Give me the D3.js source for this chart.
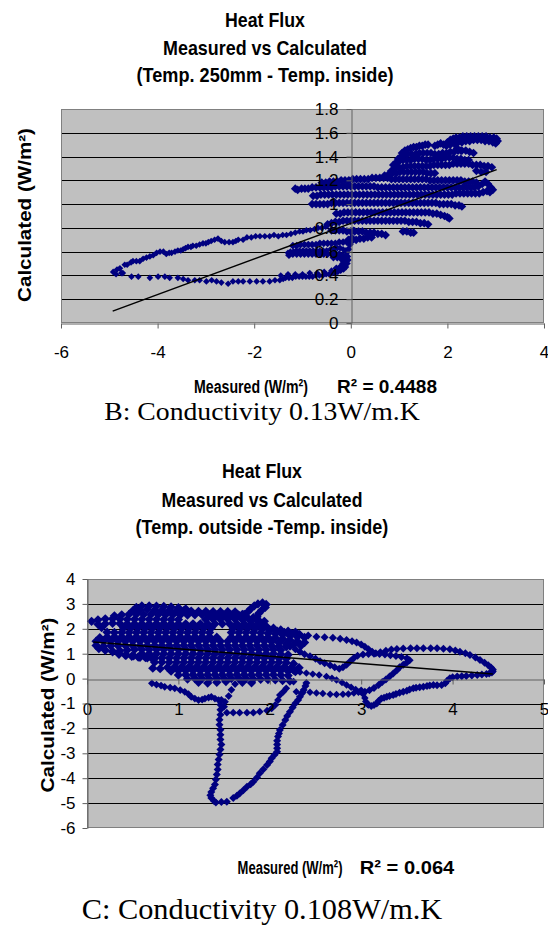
<!DOCTYPE html>
<html>
<head>
<meta charset="utf-8">
<script src="https://cdn.jsdelivr.net/npm/d3@7"></script>
<style>
  body { margin: 0; background: #fff; }
  svg { display: block; }
</style>
</head>
<body>
<svg id="chart"></svg>
<script>
// ---------- chart B : Temp. 250mm - Temp. inside ----------
let xTicksB = [-6, -4, -2, 0, 2, 4];
let yTicksB = [0, 0.2, 0.4, 0.6, 0.8, 1, 1.2, 1.4, 1.6, 1.8];
let trendB = [[-4.93, 0.10], [3.02, 1.29]];

let loopUpperB = [[-4.92,0.43],[-4.86,0.41],[-4.84,0.45],[-4.78,0.46],[-4.72,0.42],[-4.68,0.49],[-4.63,0.49],[-4.55,0.51],[-4.51,0.52],[-4.44,0.52],[-4.37,0.52],[-4.30,0.54],[-4.23,0.55],[-4.16,0.56],[-4.09,0.57],[-4.02,0.59],[-3.95,0.60],[-3.88,0.60],[-3.82,0.58],[-3.76,0.59],[-3.71,0.59],[-3.64,0.60],[-3.58,0.61],[-3.52,0.61],[-3.47,0.62],[-3.42,0.63],[-3.37,0.64],[-3.31,0.64],[-3.27,0.65],[-3.20,0.65],[-3.13,0.66],[-3.06,0.67],[-3.00,0.67],[-2.95,0.68],[-2.89,0.69],[-2.82,0.70],[-2.75,0.71],[-2.68,0.69],[-2.61,0.68],[-2.52,0.68],[-2.44,0.68],[-2.38,0.69],[-2.33,0.70],[-2.23,0.70],[-2.15,0.72],[-2.06,0.72],[-1.97,0.73],[-1.88,0.73],[-1.78,0.73],[-1.68,0.73],[-1.59,0.74],[-1.50,0.73],[-1.41,0.74],[-1.33,0.74],[-1.24,0.75],[-1.15,0.76],[-1.06,0.77],[-0.99,0.77],[-0.92,0.78],[-0.84,0.78],[-0.75,0.79],[-0.68,0.80],[-0.60,0.80],[-0.52,0.81]];

let loopLowerB = [[-4.75,0.42],[-4.54,0.39],[-4.40,0.39],[-4.16,0.38],[-3.99,0.39],[-3.85,0.39],[-3.75,0.38],[-3.58,0.38],[-3.47,0.37],[-3.37,0.36],[-3.23,0.36],[-3.13,0.36],[-2.99,0.35],[-2.88,0.36],[-2.78,0.35],[-2.68,0.34],[-2.54,0.33],[-2.44,0.35],[-2.33,0.35],[-2.23,0.35],[-2.09,0.35],[-1.95,0.35],[-1.82,0.35],[-1.68,0.35],[-1.57,0.36],[-1.47,0.36],[-1.40,0.37],[-1.35,0.38],[-1.28,0.38],[-1.21,0.38],[-1.14,0.39],[-1.07,0.39],[-1.00,0.39],[-0.93,0.39],[-0.86,0.39],[-0.79,0.39],[-0.72,0.40],[-0.65,0.40],[-0.58,0.40],[-0.51,0.41],[-0.45,0.41],[-0.39,0.42],[-0.33,0.42],[-0.27,0.43],[-0.21,0.44],[-0.15,0.45],[-0.10,0.47],[-0.07,0.50],[-0.05,0.53],[-0.06,0.56],[-0.08,0.59],[-0.11,0.61],[-0.16,0.62],[-0.22,0.63],[-0.28,0.63],[-0.35,0.62],[-0.42,0.62],[-0.50,0.61],[-0.57,0.61],[-0.64,0.61],[-0.71,0.61],[-0.78,0.61],[-0.85,0.61],[-0.92,0.61],[-0.99,0.61],[-1.06,0.61],[-1.13,0.61],[-1.19,0.60],[-1.25,0.60],[-1.30,0.59],[-1.45,0.40],[-1.30,0.41],[-1.15,0.41],[-1.00,0.41],[-0.85,0.42],[-0.70,0.42],[-0.55,0.43],[-0.40,0.44],[-0.25,0.45],[-0.15,0.48],[-0.12,0.52],[-0.12,0.56]];

let loopBlobB = [[-1.28,0.57],[-1.20,0.58],[-1.12,0.58],[-1.04,0.58],[-0.96,0.58],[-0.88,0.58],[-0.80,0.58],[-0.72,0.58],[-0.64,0.58],[-0.56,0.58],[-0.48,0.58],[-0.40,0.58],[-0.32,0.58],[-0.24,0.58],[-0.17,0.57],[-1.20,0.65],[-1.12,0.65],[-1.04,0.66],[-0.96,0.66],[-0.88,0.66],[-0.80,0.66],[-0.72,0.66],[-0.64,0.67],[-0.56,0.67],[-0.48,0.67],[-0.40,0.67],[-0.32,0.67],[-0.24,0.68],[-0.16,0.68],[-0.08,0.68],[0.00,0.68],[-0.30,0.46],[-0.22,0.47],[-0.16,0.50],[-0.14,0.54],[-0.20,0.54],[-0.28,0.55],[-0.36,0.55],[-0.05,0.62],[-0.02,0.66],[0.02,0.72],[0.06,0.78]];

let cloudUpperB = [[2.00,1.52],[2.06,1.54],[2.12,1.55],[2.18,1.56],[2.25,1.56],[2.32,1.57],[2.40,1.57],[2.48,1.57],[2.56,1.57],[2.64,1.57],[2.72,1.57],[2.80,1.57],[2.88,1.56],[2.96,1.56],[3.02,1.55],[3.04,1.53],
[1.74,1.49],[1.80,1.50],[1.86,1.51],[1.92,1.50],[1.98,1.49],[2.06,1.50],[2.14,1.51],[2.22,1.52],[2.30,1.52],[2.38,1.53],[2.46,1.53],[2.54,1.54],[2.62,1.54],[2.70,1.54],[2.78,1.53],[2.86,1.53],[2.94,1.52],[3.00,1.51],
[1.06,1.43],[1.12,1.45],[1.18,1.46],[1.24,1.47],[1.30,1.48],[1.36,1.48],[1.42,1.49],[1.48,1.49],[1.54,1.50],[1.60,1.50],[2.20,1.47],[2.28,1.45],
[0.98,1.38],[1.04,1.40],[1.10,1.41],[1.18,1.42],[1.26,1.42],[1.34,1.42],[1.42,1.43],[1.50,1.43],[1.58,1.43],[1.66,1.43],[1.74,1.42],[1.82,1.42],[1.90,1.43],[1.98,1.43],[2.06,1.44],[2.14,1.44],[2.22,1.45],[2.30,1.45],[2.38,1.45],[2.46,1.44],[2.54,1.43],
[0.88,1.33],[0.94,1.35],[1.00,1.36],[1.08,1.37],[1.16,1.37],[1.24,1.37],[1.32,1.38],[1.40,1.38],[1.48,1.38],[1.56,1.37],[1.64,1.37],[1.72,1.38],[1.80,1.38],[1.88,1.38],[1.96,1.39],[2.04,1.39],[2.12,1.39],[2.20,1.38],[2.28,1.38],[2.36,1.37],[2.44,1.37],
[0.84,1.28],[0.92,1.30],[1.00,1.31],[1.08,1.31],[1.16,1.32],[1.24,1.32],[1.32,1.32],[1.40,1.32],[1.48,1.32],[1.56,1.32],[1.64,1.32],[1.72,1.33],[1.80,1.33],[1.88,1.33],[1.96,1.33],[2.04,1.33],[2.12,1.34],[2.20,1.34],[2.28,1.34],[2.36,1.34],[2.44,1.34],[2.52,1.33],[2.60,1.33],[2.68,1.33],[2.76,1.32],[2.84,1.32],[2.92,1.31],
[0.70,1.24],[0.78,1.25],[0.86,1.26],[0.94,1.26],[1.02,1.27],[1.10,1.27],[1.18,1.27],[1.26,1.27],[1.34,1.27],[1.42,1.27],[1.50,1.27],[1.58,1.26],[1.66,1.26],[1.74,1.26],[2.60,1.28],[2.70,1.27],[2.80,1.27]];

let cloudMiddleB = [[-0.60,1.18],[-0.52,1.18],[-0.44,1.19],[-0.36,1.19],[-0.28,1.19],[-0.20,1.20],[-0.12,1.20],[-0.04,1.20],[0.04,1.21],[0.12,1.21],[0.20,1.21],[0.28,1.21],[0.36,1.21],[0.44,1.22],[0.52,1.22],[0.60,1.22],[0.68,1.22],[0.76,1.22],[0.84,1.21],[0.92,1.21],[1.00,1.21],[1.08,1.21],[1.16,1.21],[1.24,1.21],[1.32,1.21],[1.40,1.21],[1.48,1.21],[1.56,1.21],[1.64,1.20],[1.72,1.20],[1.80,1.20],[1.88,1.20],[1.96,1.20],[2.04,1.20],[2.12,1.20],[2.20,1.20],[2.28,1.20],[2.36,1.19],[2.44,1.19],[2.52,1.19],[2.60,1.18],
[-1.15,1.13],[-1.10,1.12],[-1.02,1.13],[-0.95,1.13],[-0.88,1.13],[-0.80,1.14],[-0.72,1.14],[-0.64,1.14],[-0.56,1.14],[-0.48,1.14],[-0.40,1.14],[-0.32,1.15],[-0.24,1.15],[-0.16,1.15],[-0.08,1.15],[0.00,1.15],[0.08,1.15],[0.16,1.15],[0.24,1.15],[0.32,1.15],[0.40,1.15],[0.48,1.15],[0.56,1.14],[0.64,1.14],[0.72,1.14],[0.80,1.14],[0.88,1.14],[0.96,1.14],[1.04,1.14],[1.12,1.14],[1.20,1.14],[1.28,1.14],[1.36,1.14],[1.44,1.14],[1.52,1.14],[1.60,1.14],[1.68,1.14],[1.76,1.14],[1.84,1.14],[1.92,1.14],[2.00,1.14],[2.08,1.14],[2.16,1.14],[2.24,1.14],[2.32,1.14],[2.40,1.14],[2.48,1.14],[2.56,1.14],[2.64,1.15],[2.72,1.17],[2.78,1.19],[2.84,1.17],[2.90,1.14],[2.94,1.12],
[-0.78,1.07],[-0.70,1.07],[-0.62,1.08],[-0.54,1.08],[-0.46,1.08],[-0.38,1.08],[-0.30,1.08],[-0.22,1.08],[-0.14,1.08],[-0.06,1.08],[0.02,1.08],[0.10,1.08],[0.18,1.08],[0.26,1.08],[0.34,1.08],[0.42,1.08],[0.50,1.08],[0.58,1.08],[0.66,1.08],[0.74,1.08],[0.82,1.08],[0.90,1.08],[0.98,1.08],[1.06,1.08],[1.14,1.08],[1.22,1.08],[1.30,1.08],[1.38,1.08],[1.46,1.08],[1.54,1.08],[1.62,1.08],[1.70,1.08],[1.78,1.08],[1.86,1.08],[1.94,1.08],[2.02,1.08],[2.10,1.08],[2.18,1.09],[2.26,1.09],[2.34,1.09],[2.42,1.09],[2.50,1.09],[2.58,1.09],[2.66,1.09],[2.74,1.10],[2.82,1.11],[2.88,1.10]];

let cloudLowerB = [[-0.80,1.00],[-0.72,1.00],[-0.64,1.00],[-0.56,1.00],[-0.48,1.00],[-0.40,1.01],[-0.32,1.01],[-0.24,1.01],[-0.16,1.01],[-0.08,1.01],[0.00,1.01],[0.08,1.01],[0.16,1.01],[0.24,1.01],[0.32,1.01],[0.40,1.01],[0.48,1.01],[0.56,1.01],[0.64,1.01],[0.72,1.01],[0.80,1.01],[0.88,1.01],[0.96,1.01],[1.04,1.01],[1.12,1.01],[1.20,1.01],[1.28,1.01],[1.36,1.01],[1.44,1.01],[1.52,1.01],[1.60,1.01],[1.68,1.01],[1.76,1.01],[1.84,1.00],[1.92,1.00],[2.00,1.00],[2.08,1.00],[2.16,0.99],[2.24,0.99],[2.30,0.98],
[-0.30,0.92],[-0.22,0.92],[-0.14,0.93],[-0.06,0.93],[0.02,0.93],[0.10,0.93],[0.18,0.93],[0.26,0.93],[0.34,0.93],[0.42,0.93],[0.50,0.93],[0.58,0.93],[0.66,0.93],[0.74,0.93],[0.82,0.93],[0.90,0.93],[0.98,0.93],[1.06,0.93],[1.14,0.93],[1.22,0.93],[1.30,0.93],[1.38,0.93],[1.46,0.93],[1.54,0.93],[1.62,0.93],[1.70,0.92],[1.78,0.92],[1.86,0.91],[1.94,0.90],[2.00,0.89],[2.04,0.88],
[-0.48,0.83],[-0.40,0.84],[-0.32,0.85],[-0.24,0.85],[-0.16,0.86],[-0.08,0.86],[0.00,0.86],[0.08,0.86],[0.16,0.86],[0.24,0.86],[0.32,0.86],[0.40,0.86],[0.48,0.86],[0.56,0.86],[0.64,0.86],[0.72,0.86],[0.80,0.86],[0.88,0.86],[0.96,0.86],[1.04,0.86],[1.12,0.86],[1.20,0.85],[1.28,0.85],[1.36,0.85],[1.44,0.84],[1.52,0.84],[1.60,0.83],
[-0.40,0.78],[-0.32,0.78],[-0.24,0.78],[-0.16,0.78],[-0.08,0.77],[0.00,0.77],[0.08,0.77],[0.16,0.77],[0.24,0.77],[0.32,0.76],[0.40,0.76],[0.48,0.76],[0.56,0.75],[0.64,0.75],[0.72,0.74],[1.08,0.77],[1.16,0.77],[1.24,0.76],[1.30,0.76],
[-0.05,0.70],[0.03,0.70],[0.11,0.70],[0.19,0.71],[0.27,0.71],[0.35,0.72],[0.43,0.72]];

// ---------- chart C : Temp. outside - Temp. inside ----------
let xTicksC = [0, 1, 2, 3, 4, 5];
let yTicksC = [-6, -5, -4, -3, -2, -1, 0, 1, 2, 3, 4];
let trendC = [[0.07, 1.47], [4.44, 0.18]];

let cloudTopC = [[0.54,2.86],[0.60,2.92],[0.68,2.92],[0.76,2.91],[0.84,2.90],[0.92,2.88],[1.00,2.85],[1.08,2.80],
[0.50,2.72],[0.58,2.76],[0.66,2.78],[0.74,2.76],[0.82,2.75],[0.90,2.74],[0.98,2.73],[1.06,2.73],[1.14,2.71],[1.22,2.70],[1.30,2.70],[1.38,2.69],[1.46,2.69],[1.54,2.69],[1.62,2.68],[1.70,2.58],
[0.30,2.52],[0.38,2.56],[0.46,2.58],[0.54,2.58],[0.62,2.57],[0.70,2.57],[0.78,2.57],[0.86,2.56],[0.94,2.56],[1.02,2.55],[1.10,2.55],[1.18,2.56],[1.26,2.56],[1.34,2.55],[1.42,2.55],[1.50,2.54],[1.58,2.54],[1.66,2.55],[1.74,2.50],[1.82,2.45],
[0.05,2.30],[0.12,2.36],[0.20,2.40],[0.28,2.40],[0.36,2.39],[0.44,2.38],[0.52,2.38],[0.60,2.38],[0.68,2.38],[0.76,2.38],[0.84,2.37],[0.92,2.37],[1.00,2.37],[1.30,2.37],[1.38,2.38],[1.46,2.38],[1.54,2.38],[1.62,2.38],[1.70,2.37],[1.78,2.35],[1.86,2.33],[1.94,2.30],
[0.12,2.18],[0.20,2.20],[0.28,2.22],[0.36,2.21],[0.44,2.20],[0.52,2.20],[0.60,2.20],[0.68,2.20],[0.76,2.21],[0.84,2.21],[0.92,2.20],[1.00,2.20],[1.08,2.20],[1.16,2.20],[1.24,2.20],[1.32,2.20],[1.40,2.20],[1.48,2.20],[1.56,2.20],[1.64,2.20],[1.72,2.20],[1.80,2.19],[1.88,2.18],[1.96,2.10],[2.04,2.02],[2.12,1.95],[2.20,1.90],[2.28,1.86],
[1.72,2.58],[1.76,2.68],[1.79,2.80],[1.83,2.92],[1.87,3.00],[1.92,3.04],[1.96,2.98],[1.95,2.86],[1.91,2.74],[1.88,2.62],[1.86,2.48],[1.87,2.36],[1.90,2.24],[1.93,2.12]];

let cloudMidC = [[0.16,2.05],[0.40,2.03],[0.48,2.03],[0.56,2.03],[0.64,2.03],[0.72,2.03],[0.80,2.03],[0.88,2.03],[0.96,2.03],[1.04,2.03],[1.12,2.03],[1.20,2.03],[1.28,2.03],[1.36,2.03],[1.60,2.02],[1.68,2.02],[1.76,2.02],[1.84,2.01],[1.92,1.99],[2.00,1.95],[2.08,1.90],[2.16,1.85],[2.24,1.80],[2.32,1.77],
[0.22,1.86],[0.30,1.85],[0.38,1.85],[0.46,1.85],[0.54,1.85],[0.62,1.85],[0.70,1.85],[0.78,1.85],[0.86,1.85],[0.94,1.85],[1.02,1.85],[1.10,1.85],[1.18,1.85],[1.26,1.85],[1.34,1.85],[1.58,1.85],[1.66,1.85],[1.74,1.85],[1.82,1.85],[1.90,1.84],[1.98,1.82],[2.06,1.80],[2.14,1.76],[2.22,1.72],[2.30,1.68],[2.38,1.65],
[0.14,1.64],[0.22,1.67],[0.30,1.68],[0.38,1.68],[0.46,1.68],[0.54,1.68],[0.62,1.68],[0.70,1.68],[0.78,1.68],[0.86,1.68],[0.94,1.68],[1.02,1.68],[1.10,1.68],[1.18,1.68],[1.26,1.68],[1.34,1.68],[1.42,1.66],[1.58,1.66],[1.66,1.67],[1.74,1.67],[1.82,1.67],[1.90,1.67],[1.98,1.66],[2.06,1.64],[2.14,1.60],[2.22,1.55],[2.30,1.50],[2.38,1.45],
[0.10,1.50],[0.18,1.52],[0.26,1.51],[0.34,1.50],[0.42,1.50],[0.50,1.50],[0.58,1.50],[0.66,1.50],[0.74,1.50],[0.82,1.50],[0.90,1.50],[0.98,1.50],[1.06,1.50],[1.14,1.50],[1.22,1.50],[1.30,1.50],[1.38,1.50],[1.46,1.50],[1.54,1.50],[1.62,1.50],[1.70,1.50],[1.78,1.50],[1.86,1.50],[1.94,1.50],[2.02,1.48],[2.10,1.44],[2.18,1.40],[2.26,1.36],[2.34,1.32],
[0.10,1.33],[0.18,1.30],[0.26,1.32],[0.34,1.32],[0.42,1.33],[0.50,1.33],[0.58,1.33],[0.66,1.33],[0.74,1.33],[0.82,1.33],[0.90,1.33],[0.98,1.33],[1.06,1.33],[1.14,1.33],[1.22,1.33],[1.30,1.33],[1.38,1.33],[1.46,1.33],[1.54,1.33],[1.62,1.33],[1.70,1.33],[1.78,1.33],[1.86,1.33],[1.94,1.33],[2.02,1.32],[2.10,1.30],[2.18,1.28],
[0.28,1.10],[0.36,1.12],[0.44,1.15],[0.52,1.17],[0.60,1.17],[0.68,1.17],[0.76,1.17],[0.84,1.17],[0.92,1.17],[1.00,1.17],[1.08,1.17],[1.16,1.17],[1.24,1.17],[1.32,1.17],[1.40,1.17],[1.48,1.17],[1.56,1.17],[1.64,1.17],[1.72,1.17],[1.80,1.17],[1.88,1.17],[1.96,1.17],[2.04,1.17],[2.12,1.15],
[0.35,0.98],[0.43,0.95],[0.51,0.92],[0.60,1.00],[0.68,1.00],[0.76,1.00],[0.84,1.00],[0.92,1.00],[1.00,1.00],[1.08,1.00],[1.16,1.00],[1.24,1.00],[1.32,1.00],[1.40,1.00],[1.48,1.00],[1.56,1.00],[1.64,1.00],[1.72,1.00],[1.80,1.00],[1.88,1.00],[1.96,1.00],[2.04,1.00],[2.12,0.98],[2.20,0.96]];

let cloudLowC = [[0.58,0.86],[0.66,0.83],[0.74,0.81],[0.82,0.83],[0.90,0.83],[0.98,0.83],[1.06,0.83],[1.14,0.83],[1.22,0.83],[1.30,0.83],[1.38,0.83],[1.46,0.83],[1.54,0.83],[1.62,0.83],[1.70,0.83],[1.78,0.83],[1.86,0.83],[1.94,0.83],[2.02,0.83],[2.10,0.82],[2.18,0.80],
[0.74,0.66],[0.82,0.66],[0.90,0.66],[0.98,0.66],[1.06,0.66],[1.14,0.66],[1.22,0.66],[1.30,0.66],[1.38,0.66],[1.46,0.66],[1.54,0.66],[1.62,0.66],[1.70,0.66],[1.78,0.66],[1.86,0.66],[1.94,0.66],[2.02,0.66],[2.10,0.66],[2.18,0.64],[2.26,0.60],
[0.72,0.42],[0.80,0.40],[0.88,0.45],[0.96,0.48],[1.04,0.49],[1.12,0.49],[1.20,0.49],[1.28,0.49],[1.36,0.49],[1.44,0.49],[1.52,0.49],[1.60,0.49],[1.68,0.49],[1.76,0.49],[1.84,0.49],[1.92,0.49],[2.00,0.49],[2.08,0.49],[2.16,0.48],[2.24,0.46],[2.32,0.44],
[0.92,0.30],[1.00,0.32],[1.08,0.32],[1.16,0.32],[1.24,0.32],[1.32,0.32],[1.40,0.32],[1.48,0.32],[1.56,0.32],[1.64,0.32],[1.72,0.32],[1.80,0.32],[1.88,0.32],[1.96,0.32],[2.04,0.32],[2.12,0.32],[2.20,0.30],[2.28,0.28],
[1.00,0.14],[1.08,0.15],[1.16,0.15],[1.24,0.15],[1.32,0.15],[1.40,0.15],[1.48,0.15],[1.56,0.15],[1.64,0.15],[1.72,0.15],[1.80,0.15],[1.88,0.15],[1.96,0.15],[2.04,0.15],[2.12,0.14],[2.20,0.12],
[1.10,-0.02],[1.18,0.00],[1.26,0.00],[1.34,-0.02],[1.42,0.00],[1.50,0.00],[1.58,0.00],[1.66,0.00],[1.74,0.00],[1.82,-0.02],[1.90,-0.03],[1.98,-0.04],[2.06,-0.05],[2.14,-0.08],[2.22,-0.10],
[1.22,-0.15],[1.32,-0.18],[1.42,-0.15],[1.52,-0.12],[1.70,-0.15],[1.80,-0.17],
[0.13,1.21],[0.20,1.14],[0.28,1.08],[0.35,1.01],[0.42,0.94],[0.49,0.90],[0.56,0.87],[0.64,0.84],[0.71,0.81]];

let tailC = [[0.71,-0.19],[0.76,-0.24],[0.81,-0.28],[0.85,-0.33],[0.91,-0.36],[0.96,-0.39],[1.02,-0.46],[1.07,-0.53],[1.11,-0.62],[1.14,-0.73],[1.18,-0.80],[1.22,-0.86],[1.26,-0.84],[1.29,-0.80],[1.33,-0.76],[1.36,-0.73],[1.40,-0.80],[1.44,-0.86],
[1.50,-1.13],[1.51,-0.93],[1.55,-0.70],[1.58,-0.45],[1.62,-0.22],
[1.53,-1.37],[1.60,-1.37],[1.67,-1.37],[1.75,-1.37],[1.82,-1.37],[1.89,-1.33],[1.97,-1.29],[2.02,-1.20],[2.06,-1.06],[2.09,-0.86],[2.11,-0.66],[2.15,-0.52],[2.18,-0.39],[2.26,-0.12]];

let dropC = [[1.47,-0.86],[1.46,-1.05],[1.46,-1.25],[1.46,-1.45],[1.45,-1.65],[1.45,-1.85],[1.46,-2.05],[1.46,-2.25],[1.46,-2.45],[1.47,-2.65],[1.46,-2.85],[1.45,-3.05],[1.44,-3.25],[1.43,-3.45],[1.43,-3.65],[1.42,-3.85],[1.41,-4.05],[1.40,-4.25],[1.38,-4.40],[1.36,-4.55],[1.35,-4.68],[1.36,-4.80],[1.39,-4.92],[1.41,-4.98],
[1.47,-4.96],[1.53,-4.95],[1.60,-4.80],[1.64,-4.70],[1.67,-4.61],[1.71,-4.48],[1.75,-4.34],[1.79,-4.24],[1.82,-4.14],[1.86,-3.97],[1.89,-3.80],[1.93,-3.64],[1.97,-3.47],[2.00,-3.33],[2.02,-3.20],[2.05,-3.07],[2.08,-2.94],[2.08,-2.80],[2.08,-2.65],[2.08,-2.50],[2.09,-2.33],[2.10,-2.20],[2.11,-2.06],[2.14,-1.86],[2.17,-1.66],[2.19,-1.50],[2.22,-1.33],[2.25,-1.16],[2.28,-0.99],[2.31,-0.86],[2.33,-0.73],[2.35,-0.60],[2.37,-0.46],[2.39,-0.30],[2.40,-0.18]];

let outerLoopC = [[2.15,1.82],[2.24,1.80],[2.33,1.78],[2.42,1.73],[2.51,1.68],[2.60,1.66],[2.69,1.64],[2.77,1.60],[2.84,1.55],[2.90,1.50],[2.95,1.45],[3.00,1.37],[3.04,1.28],[3.08,1.18],[3.12,1.08],[3.16,1.02],[3.21,1.06],[3.27,1.12],[3.33,1.17],[3.39,1.19],[3.46,1.21],[3.54,1.22],[3.61,1.22],[3.68,1.22],[3.76,1.22],[3.83,1.22],[3.90,1.20],[3.97,1.18],[4.03,1.13],[4.08,1.08],[4.14,1.02],[4.19,0.95],[4.25,0.85],[4.30,0.75],[4.35,0.64],[4.39,0.54],[4.42,0.45],[4.44,0.37],[4.44,0.30],[4.43,0.24],[4.40,0.20],[4.37,0.18],[4.32,0.16],[4.27,0.14],[4.21,0.12],[4.15,0.10],[4.10,0.09],[4.05,0.08],[4.00,0.05],[3.97,0.01],[3.94,-0.09],[3.92,-0.19],[3.88,-0.26],[3.83,-0.27],[3.79,-0.26],[3.75,-0.28],[3.72,-0.30],[3.68,-0.33],[3.64,-0.35],[3.60,-0.37],[3.57,-0.39],[3.53,-0.44],[3.50,-0.49],[3.46,-0.53],[3.42,-0.57],[3.38,-0.62],[3.35,-0.66],[3.31,-0.70],[3.28,-0.73],[3.25,-0.77],[3.22,-0.80],[3.19,-0.90],[3.17,-1.00],[3.14,-1.06],[3.11,-1.10],[3.08,-1.05]];

let innerLoopC = [[2.22,1.28],[2.28,1.18],[2.33,1.08],[2.38,0.98],[2.44,0.90],[2.50,0.80],[2.55,0.70],[2.60,0.62],[2.66,0.54],[2.71,0.46],[2.76,0.40],[2.80,0.46],[2.84,0.56],[2.88,0.70],[2.92,0.83],[2.96,0.92],[3.02,0.97],[3.08,0.99],[3.14,1.00],[3.20,0.99],[3.26,0.97],[3.32,0.94],[3.38,0.91],[3.44,0.87],[3.50,0.82],[3.53,0.74],[3.50,0.65],[3.46,0.56],[3.42,0.46],[3.39,0.34],[3.35,0.20],[3.31,0.08],[3.27,-0.04],[3.23,-0.14],[3.19,-0.26],[3.14,-0.38],[3.09,-0.47],[3.04,-0.53],[3.00,-0.48]];

let slopeC = [[2.26,0.30],[2.33,0.26],[2.40,0.22],[2.47,0.18],[2.54,0.14],[2.62,0.08],[2.68,0.01],[2.73,-0.06],[2.79,-0.16],[2.84,-0.26],[2.89,-0.35],[2.94,-0.44],[2.99,-0.52],[3.02,-0.62],[3.04,-0.78],[3.05,-0.92],[3.07,-1.04],
[2.29,-0.53],[2.36,-0.55],[2.44,-0.55],[2.51,-0.58],[2.58,-0.60],[2.66,-0.63],[2.73,-0.64],[2.80,-0.63],[2.86,-0.62],[2.92,-0.58],[2.97,-0.55]];

// ---------- drawing ----------
let svg = d3.select("#chart").attr("width", 548).attr("height", 932);
svg.append("rect").attr("width", 548).attr("height", 932).attr("fill", "#fff");

const SANS = "'Liberation Sans', Arial, sans-serif";
const SERIF = "'Liberation Serif', 'Times New Roman', serif";

// diamond marker, a square turned 45 degrees
const diamond = {
  draw(ctx, size) {
    let r = Math.sqrt(size / 2);
    ctx.moveTo(0, -r); ctx.lineTo(r, 0); ctx.lineTo(0, r); ctx.lineTo(-r, 0); ctx.closePath();
  }
};

// one line of text, squeezed or stretched to the width it has in the picture
function addLabel(parent, x, y, str, o) {
  let g = parent.append("g")
    .attr("transform", `translate(${x},${y})` + (o.rotate ? " rotate(-90)" : ""));
  let t = g.append("text")
    .attr("text-anchor", "middle")
    .attr("font-family", o.family || SANS)
    .attr("font-size", o.size)
    .attr("font-weight", o.weight || "normal")
    .attr("fill", "#000")
    .text(str);
  if (o.width) {
    let w = t.node().getBBox().width;
    t.attr("transform", `scale(${o.width / w},1)`);
  }
}

function drawChart(cfg) {
  let { box, xDomain, yDomain, xTicks, yTicks, series, trend } = cfg;
  let xScale = d3.scaleLinear().domain(xDomain).range([box.left, box.right]);
  let yScale = d3.scaleLinear().domain(yDomain).range([box.bottom, box.top]);
  let root = svg.append("g");

  root.append("rect")
    .attr("x", box.left).attr("y", box.top)
    .attr("width", box.right - box.left).attr("height", box.bottom - box.top)
    .attr("fill", "#c0c0c0");

  // horizontal gridlines
  root.append("g").selectAll("line")
    .data(yTicks.filter(d => d !== yDomain[0] && d !== yDomain[1] && d !== 0))
    .enter().append("line")
    .attr("x1", box.left).attr("x2", box.right)
    .attr("y1", d => Math.round(yScale(d)) + 0.5)
    .attr("y2", d => Math.round(yScale(d)) + 0.5)
    .attr("stroke", "#000").attr("stroke-width", 1);

  root.append("rect")
    .attr("x", box.left + 0.5).attr("y", box.top + 0.5)
    .attr("width", box.right - box.left - 1).attr("height", box.bottom - box.top - 1)
    .attr("fill", "none").attr("stroke", "#808080");

  // points: each series with its own marker area
  series.forEach(s => {
    let sym = d3.symbol().type(diamond).size(s.size);
    root.append("g").selectAll("path")
      .data(s.data).enter().append("path")
      .attr("transform", d => `translate(${xScale(d[0])},${yScale(d[1])})`)
      .attr("d", sym)
      .attr("fill", "#000080");
  });

  // trendline
  root.append("path")
    .datum(trend)
    .attr("d", d3.line().x(d => xScale(d[0])).y(d => yScale(d[1])))
    .attr("fill", "none").attr("stroke", "#000").attr("stroke-width", 1.5);

  // axes
  let fmt = d => String(+d.toFixed(1));
  let axisX = d3.axisBottom(xScale).tickValues(xTicks).tickFormat(fmt)
    .tickSize(5).tickPadding(cfg.xPad).tickSizeOuter(0);
  let gX = root.append("g")
    .attr("transform", `translate(0,${Math.round(yScale(0)) + 0.5})`)
    .call(axisX);
  let axisY = d3.axisLeft(yScale).tickValues(yTicks).tickFormat(fmt)
    .tickSize(5).tickPadding(cfg.yPad).tickSizeOuter(0);
  let gY = root.append("g")
    .attr("transform", `translate(${Math.round(xScale(0)) + 0.5},0)`)
    .call(axisY);
  [gX, gY].forEach(g => {
    g.selectAll("path.domain").attr("stroke", "#606060");
    g.selectAll(".tick line").attr("stroke", "#606060");
    g.selectAll(".tick text")
      .attr("font-family", SANS).attr("font-size", 17).attr("fill", "#000");
  });

  // titles
  let t = cfg.titles;
  t.lines.forEach((s, i) => addLabel(svg, t.cx, t.base[i], s, { size: 20, weight: "bold", width: t.widths[i] }));
  addLabel(svg, cfg.xTitle.cx, cfg.xTitle.base, "Measured (W/m\u00b2)", { size: 19, weight: "bold", width: cfg.xTitle.width });
  addLabel(svg, cfg.r2.cx, cfg.xTitle.base, "R\u00b2 = " + cfg.r2.text, { size: 19, weight: "bold", width: cfg.r2.width });
  addLabel(svg, cfg.yTitle.x, cfg.yTitle.cy, "Calculated (W/m\u00b2)", { size: 18, weight: "bold", width: cfg.yTitle.len, rotate: true });
  addLabel(svg, cfg.caption.cx, cfg.caption.base, cfg.caption.text, { size: cfg.caption.size, family: SERIF, width: cfg.caption.width });
}

drawChart({
  box: { left: 61, top: 109, right: 544, bottom: 323 },
  xDomain: [-6, 4], yDomain: [0, 1.8],
  xTicks: xTicksB, yTicks: yTicksB,
  xPad: 17, yPad: 8,
  series: [
    { data: loopUpperB, size: 22 }, { data: loopLowerB, size: 22 }, { data: loopBlobB, size: 30 },
    { data: cloudLowerB, size: 38 }, { data: cloudMiddleB, size: 38 }, { data: cloudUpperB, size: 38 }
  ],
  trend: trendB,
  titles: { cx: 265, base: [27, 55, 82], widths: [80, 204, 257],
    lines: ["Heat Flux", "Measured vs Calculated", "(Temp. 250mm - Temp. inside)"] },
  xTitle: { cx: 251, base: 392.5, width: 114 },
  r2: { cx: 387, width: 100, text: "0.4488" },
  yTitle: { x: 31, cy: 215, len: 174 },
  caption: { cx: 262, base: 420, width: 316, size: 26, text: "B: Conductivity 0.13W/m.K" }
});

drawChart({
  box: { left: 87, top: 579, right: 544, bottom: 828 },
  xDomain: [0, 5], yDomain: [-6, 4],
  xTicks: xTicksC, yTicks: yTicksC,
  xPad: 18, yPad: 7,
  series: [
    { data: dropC, size: 32 }, { data: tailC, size: 30 },
    { data: cloudLowC, size: 44 }, { data: cloudMidC, size: 44 }, { data: cloudTopC, size: 44 },
    { data: outerLoopC, size: 32 }, { data: innerLoopC, size: 32 }, { data: slopeC, size: 28 }
  ],
  trend: trendC,
  titles: { cx: 262, base: [478, 507, 534], widths: [80, 201, 253],
    lines: ["Heat Flux", "Measured vs Calculated", "(Temp. outside -Temp. inside)"] },
  xTitle: { cx: 290, base: 874, width: 105 },
  r2: { cx: 407, width: 95, text: "0.064" },
  yTitle: { x: 54, cy: 705, len: 175 },
  caption: { cx: 262, base: 919, width: 361, size: 30, text: "C: Conductivity 0.108W/m.K" }
});
</script>
</body>
</html>
